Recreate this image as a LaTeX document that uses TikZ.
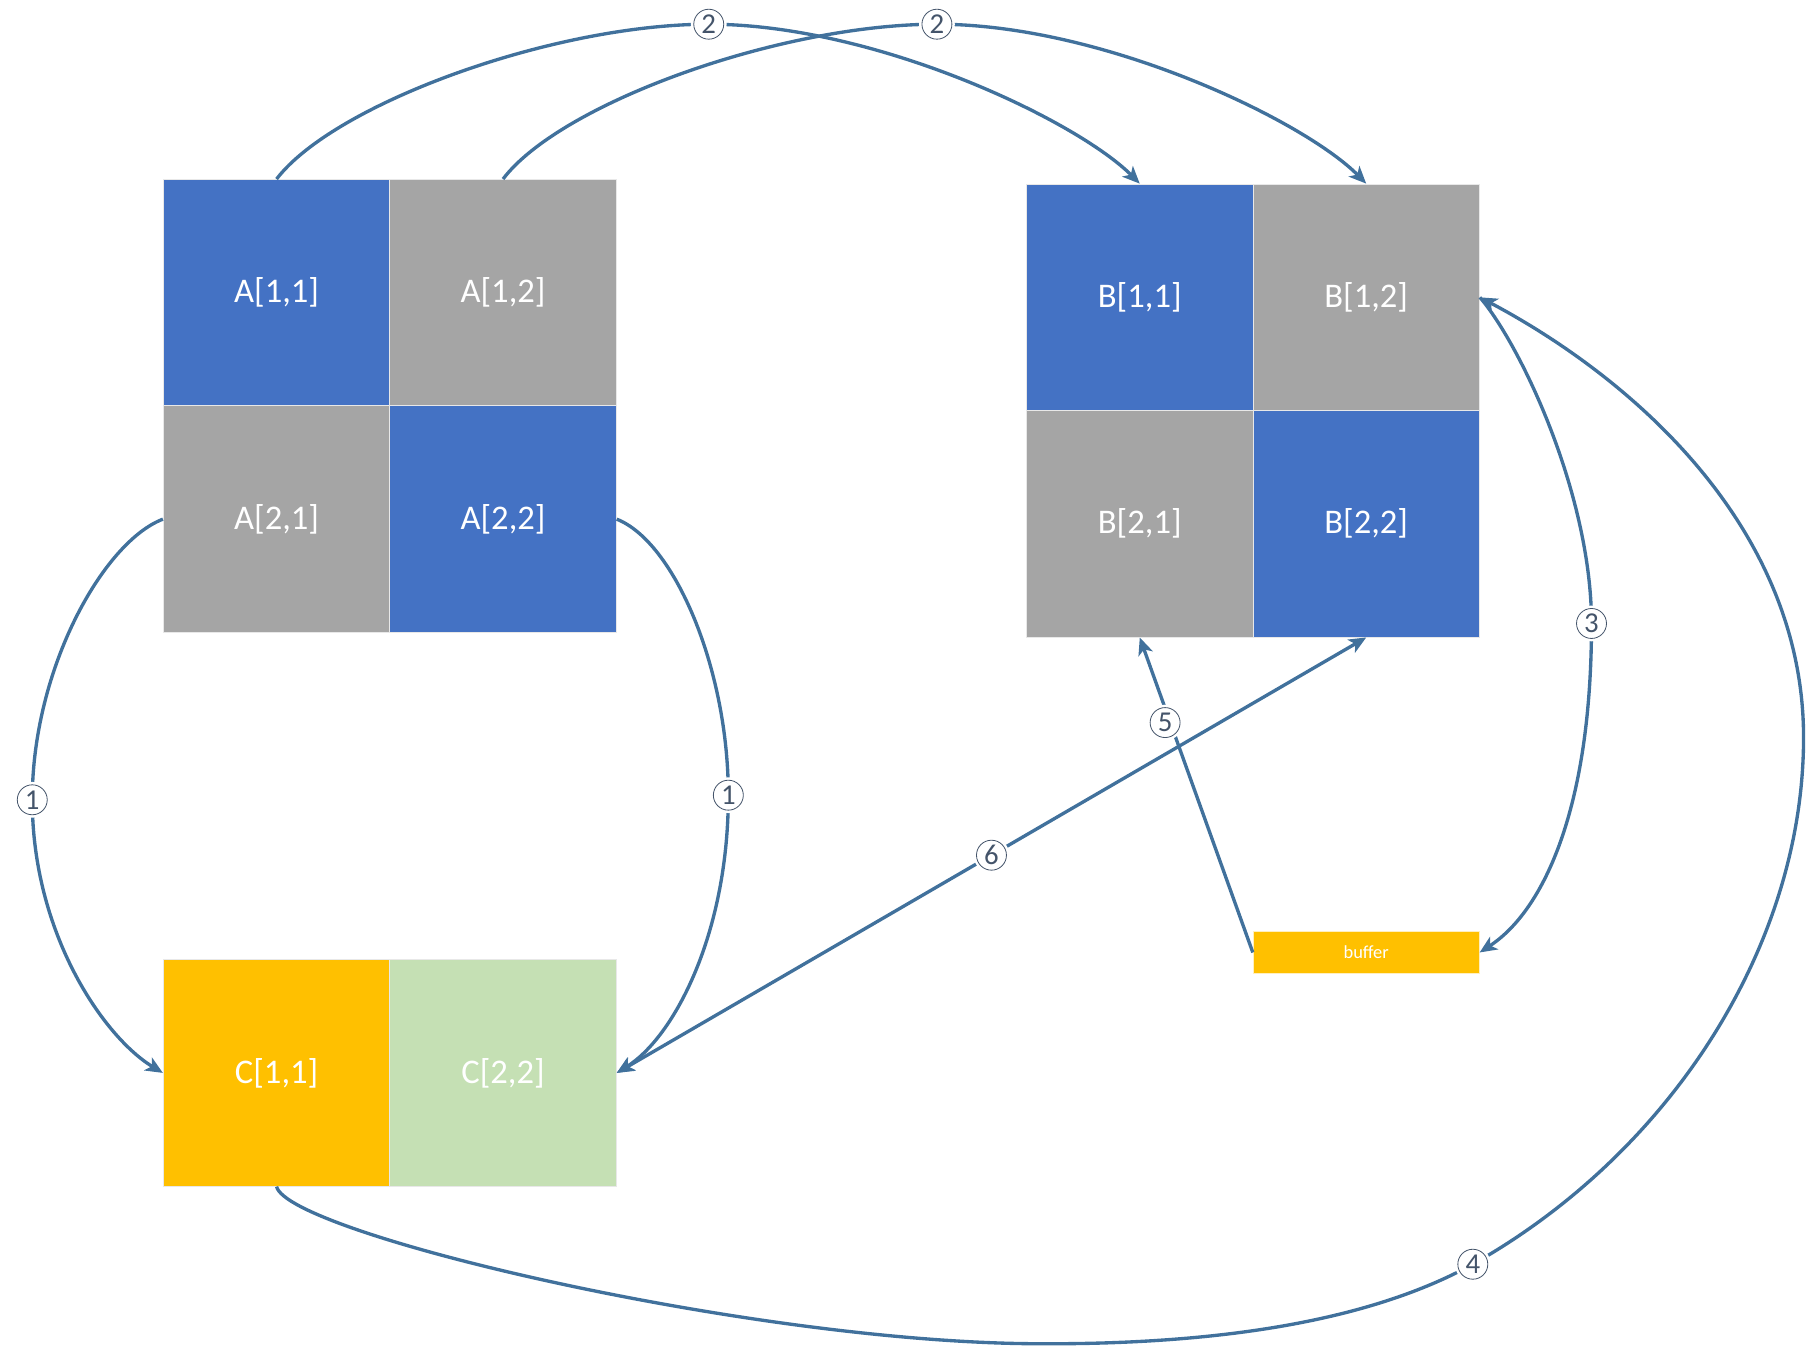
\documentclass[tikz,border=0pt]{standalone}
\usepackage{fontspec}
\setmainfont{Carlito}
\usetikzlibrary{arrows.meta}
\definecolor{cblue}{HTML}{4472C4}
\definecolor{cgray}{HTML}{A5A5A5}
\definecolor{cgold}{HTML}{FFC000}
\definecolor{cgreen}{HTML}{C5E0B4}
\definecolor{cline}{HTML}{41719C}
\definecolor{clabel}{HTML}{44546A}
\begin{document}
\begin{tikzpicture}[x=1pt,y=-1pt,
  cell/.style={rectangle,minimum width=196.5pt,minimum height=196.5pt,inner sep=0pt,
    draw=white!82!gray,line width=0.8pt,text=white,font=\fontsize{30}{32}\selectfont},
  bufbox/.style={rectangle,minimum width=196pt,minimum height=37pt,inner sep=0pt,
    fill=cgold,draw=white!75!cgold,line width=0.8pt,text=white,font=\fontsize{16}{18}\selectfont},
  conn/.style={draw=cline,line width=2.9pt},
  ptip/.style={-{Stealth[length=15pt,width=13pt,inset=4pt]}},
  num/.style={circle,draw=clabel,line width=0.7pt,fill=white,minimum size=26pt,inner sep=0pt,
    text=clabel,font=\fontsize{25}{26}\selectfont,preaction={draw=white,line width=5pt}}]
\useasboundingbox (0,0) rectangle (1568,1170);
% matrix A
\node[cell,fill=cblue] (a11) at (240,254) {A[1,1]};
\node[cell,fill=cgray] (a12) at (436.5,254) {A[1,2]};
\node[cell,fill=cgray] (a21) at (240,450.5) {A[2,1]};
\node[cell,fill=cblue] (a22) at (436.5,450.5) {A[2,2]};
% matrix B
\node[cell,fill=cblue] (b11) at (989,258) {B[1,1]};
\node[cell,fill=cgray] (b12) at (1185.5,258) {B[1,2]};
\node[cell,fill=cgray] (b21) at (989,454.5) {B[2,1]};
\node[cell,fill=cblue] (b22) at (1185.5,454.5) {B[2,2]};
% matrix C
\node[cell,fill=cgold] (c11) at (240,931) {C[1,1]};
\node[cell,fill=cgreen] (c22) at (436.5,931) {C[2,2]};
% buffer
\node[bufbox] (buf) at (1185.5,826.5) {buffer};
% label positions
\coordinate (p1a) at (28,694);
\coordinate (p1b) at (632,690);
\coordinate (p2a) at (615,21);
\coordinate (p2b) at (813,21);
\coordinate (p3) at (1381,541);
\coordinate (p4) at (1278,1097);
\coordinate (p5) at (1011,627);
% connectors
\draw[conn,ptip] (a21.west) .. controls (90,470) and (28,580) .. (p1a)
   .. controls (28,810) and (90,900) .. (c11.west);
\draw[conn,ptip] (a22.east) .. controls (585,470) and (632,580) .. (p1b)
   .. controls (632,810) and (585,900) .. (c22.east);
\draw[conn,ptip] (a11.north) .. controls (290,90) and (480,21) .. (p2a)
   .. controls (760,21) and (935,105) .. (b11.north);
\draw[conn,ptip] (a12.north) .. controls (486,90) and (676,21) .. (p2b)
   .. controls (958,21) and (1132,105) .. (b12.north);
\draw[conn,ptip] (b12.east) .. controls (1320,300) and (1381,430) .. (p3)
   .. controls (1381,700) and (1340,790) .. (buf.east);
\draw[conn,ptip] (c11.south) .. controls (250,1070) and (650,1165) .. (900,1166)
   .. controls (1080,1167) and (1200,1140) .. (p4)
   .. controls (1450,1000) and (1565,820) .. (1565,640)
   .. controls (1565,460) and (1420,330) .. (b12.east);
\draw[conn,ptip] (buf.west) -- (b21.south);
\draw[conn,{Stealth[length=15pt,width=13pt,inset=4pt]}-{Stealth[length=15pt,width=13pt,inset=4pt]}] (c22.east) -- node[num] (l6) {6} (b22.south);
% labels
\node[num] (l1a) at (p1a) {1};
\node[num] (l1b) at (p1b) {1};
\node[num] (l2a) at (p2a) {2};
\node[num] (l2b) at (p2b) {2};
\node[num] (l3) at (p3) {3};
\node[num] (l4) at (p4) {4};
\node[num] (l5) at (p5) {5};
\end{tikzpicture}
\end{document}
